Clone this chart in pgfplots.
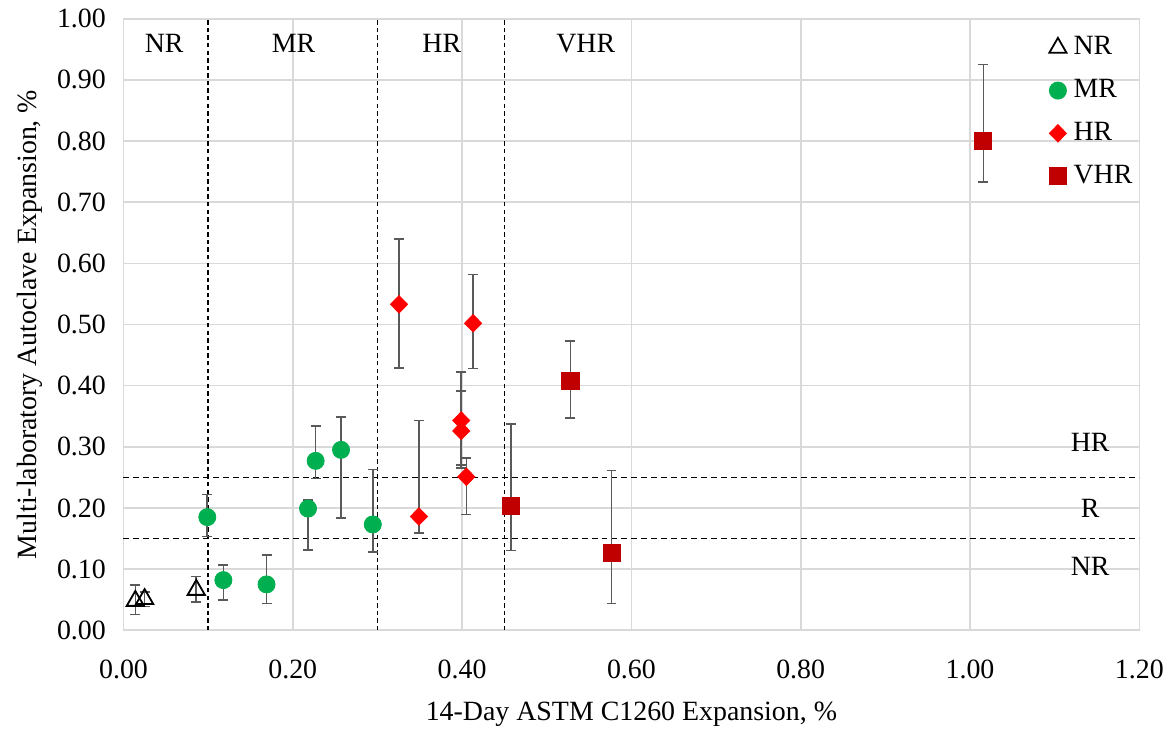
\documentclass[border=0pt]{standalone}
\usepackage{fontspec}
\setmainfont{Liberation Serif}
\usepackage{pgfplots}
\usepackage{pgfplotstable}
\pgfplotsset{compat=1.18}
\definecolor{mrgreen}{HTML}{00B050}
\definecolor{hrred}{HTML}{FF0000}
\definecolor{vhrred}{HTML}{C00000}
\definecolor{errgray}{HTML}{595959}
\definecolor{gridgray}{HTML}{D9D9D9}

\pgfplotstableread{
x y ep em
0.014 0.048 0.026 0.022
0.025 0.051 0.012 0.012
0.086 0.066 0.022 0.020
}\nrdata
\pgfplotstableread{
x y ep em
0.099 0.185 0.037 0.032
0.118 0.082 0.025 0.033
0.169 0.075 0.048 0.031
0.218 0.199 0.014 0.068
0.227 0.277 0.057 0.029
0.257 0.295 0.054 0.111
0.2945 0.173 0.090 0.045
}\mrdata
\pgfplotstableread{
x y ep em
0.3255 0.533 0.107 0.104
0.349 0.186 0.157 0.027
0.399 0.343 0.0795 0.078
0.399 0.326 0.0655 0.056
0.405 0.251 0.031 0.062
0.413 0.502 0.080 0.074
}\hrdata
\pgfplotstableread{
x y ep em
0.4576 0.203 0.134 0.0725
0.528 0.408 0.0646 0.061
0.5765 0.127 0.1345 0.083
1.0157 0.800 0.125 0.067
}\vhrdata

\begin{document}
\fontsize{14}{17}\selectfont
\begin{tikzpicture}
\begin{axis}[
  scale only axis,
  width=510pt, height=307pt,
  xmin=0, xmax=1.2, ymin=0, ymax=1.0,
  xtick={0,0.2,...,1.2}, ytick={0,0.1,...,1.0},
  /pgf/number format/fixed,
  /pgf/number format/fixed zerofill,
  /pgf/number format/precision=2,
  /pgf/number format/assume math mode=true,
  major tick length=0pt,
  grid=major,
  major grid style={gridgray, line width=0.8pt},
  axis line style={gridgray, line width=0.8pt},
  tick label style={font=\fontsize{14}{17}\selectfont, black},
  label style={font=\fontsize{14}{17}\selectfont},
  xticklabel style={yshift=-10pt},
  yticklabel style={xshift=-4pt},
  xlabel={14-Day ASTM C1260 Expansion, \%},
  ylabel={Multi-laboratory Autoclave Expansion, \%},
  xlabel style={yshift=-2pt},
  ylabel style={yshift=-2pt},
  legend style={at={(0.911,0.978)}, anchor=north west, draw=none, fill=none,
    font=\fontsize{14}{17}\selectfont, row sep=6.2pt, inner sep=0pt,
    nodes={inner xsep=3.5pt}},
  legend cell align=left,
  clip=false,
]
\coordinate (SW) at (rel axis cs:0,0);
\coordinate (NE) at (rel axis cs:1,1);
% threshold lines
\addplot[forget plot, black, line width=0.9pt, dash pattern=on 2.2pt off 1.6pt] coordinates {(0.1,0) (0.1,1)};
\addplot[forget plot, black, line width=0.9pt, dash pattern=on 2.2pt off 1.6pt] coordinates {(0.3,0) (0.3,1)};
\addplot[forget plot, black, line width=0.9pt, dash pattern=on 2.2pt off 1.6pt] coordinates {(0.45,0) (0.45,1)};
\addplot[forget plot, black, line width=0.8pt, dash pattern=on 3pt off 2pt] coordinates {(0,0.25) (1.2,0.25)};
\addplot[forget plot, black, line width=0.8pt, dash pattern=on 3pt off 2pt] coordinates {(0,0.15) (1.2,0.15)};

\addplot[only marks, mark=triangle, mark size=5pt, mark options={black, line width=0.9pt},
  error bars/.cd, y dir=both, y explicit,
  error bar style={errgray, line width=0.8pt},
  error mark options={rotate=90, errgray, mark size=2.5pt, line width=0.8pt}]
  table[x=x, y=y, y error plus=ep, y error minus=em] {\nrdata};
\addlegendentry{NR}
\addplot[only marks, mark=*, mark size=4.3pt, mark options={mrgreen, fill=mrgreen},
  error bars/.cd, y dir=both, y explicit,
  error bar style={errgray, line width=0.8pt},
  error mark options={rotate=90, errgray, mark size=2.5pt, line width=0.8pt}]
  table[x=x, y=y, y error plus=ep, y error minus=em] {\mrdata};
\addlegendentry{MR}
\addplot[only marks, mark=diamond*, mark size=4.4pt, mark options={hrred, fill=hrred, xscale=1.3},
  error bars/.cd, y dir=both, y explicit,
  error bar style={errgray, line width=0.8pt},
  error mark options={rotate=90, errgray, mark size=2.5pt, line width=0.8pt}]
  table[x=x, y=y, y error plus=ep, y error minus=em] {\hrdata};
\addlegendentry{HR}
\addplot[only marks, mark=square*, mark size=4.3pt, mark options={vhrred, fill=vhrred},
  error bars/.cd, y dir=both, y explicit,
  error bar style={errgray, line width=0.8pt},
  error mark options={rotate=90, errgray, mark size=2.5pt, line width=0.8pt}]
  table[x=x, y=y, y error plus=ep, y error minus=em] {\vhrdata};
\addlegendentry{VHR}

\node at (axis cs:0.048,0.959) {NR};
\node at (axis cs:0.201,0.959) {MR};
\node at (axis cs:0.376,0.959) {HR};
\node at (axis cs:0.546,0.959) {VHR};
\node at (axis cs:1.142,0.308) {HR};
\node at (axis cs:1.142,0.199) {R};
\node at (axis cs:1.142,0.104) {NR};
\end{axis}
\path ([xshift=-62pt,yshift=-46.5pt]SW) rectangle ([xshift=14.5pt,yshift=9pt]NE);
\end{tikzpicture}
\end{document}
